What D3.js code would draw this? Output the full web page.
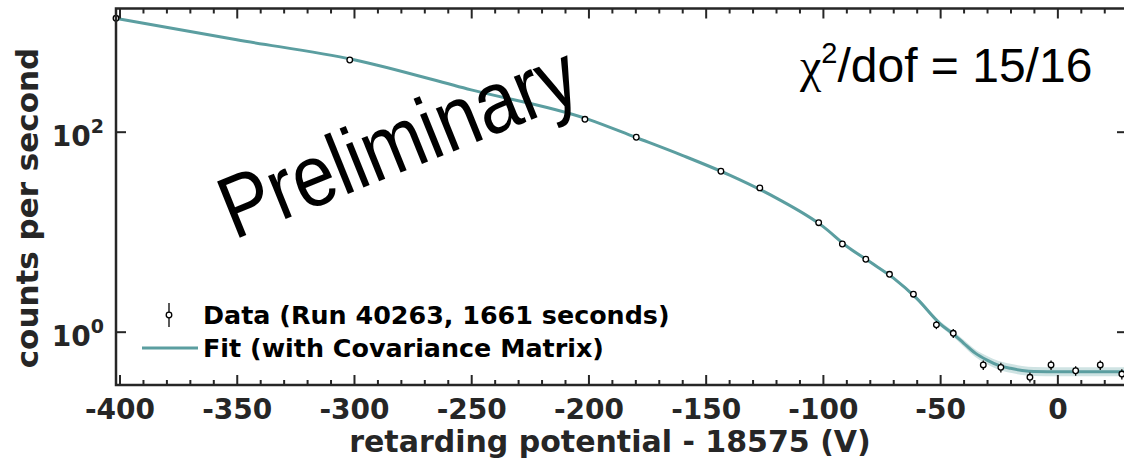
<!DOCTYPE html>
<html>
<head>
<meta charset="utf-8">
<script src="https://d3js.org/d3.v7.min.js"></script>
<style>
  body { margin: 0; background: #fff; }
  svg { display: block; }
</style>
</head>
<body>
<div id="chart"></div>
<script>
// measured points: retarding potential - 18575 (V), counts per second, error
const dataV    = [-401.5, -301.8, -201.5, -179.6, -143.5, -126.9, -101.8, -91.7, -81.7, -71.6,
                  -61.4, -51.6, -44.4, -31.6, -24.1, -11.7, -2.7, 7.8, 18.3, 27.5];
const dataRate = [1361, 521, 133, 88, 40.2, 27.4, 12.3, 7.53, 5.30, 3.75,
                  2.37, 1.17, 0.964, 0.465, 0.44, 0.35, 0.465, 0.407, 0.465, 0.377];
const dataErr  = [5, 4, 1.5, 1.2, 0.7, 0.6, 0.35, 0.25, 0.2, 0.16,
                  0.15, 0.11, 0.1, 0.05, 0.05, 0.04, 0.05, 0.045, 0.05, 0.045];

// fit curve and its relative uncertainty band
const fitV      = [-401.5, -350, -300, -250, -200, -180, -160, -140, -120, -100, -90, -80, -70,
                   -60, -50, -44, -40, -35, -30, -25, -20, -15, -10, 0, 30];
const fitRate   = [1361, 830, 525, 262, 133, 88, 58, 37, 21.8, 11.3, 7.2, 5.0, 3.45,
                   2.15, 1.2, 0.93, 0.77, 0.61, 0.52, 0.46, 0.43, 0.41, 0.40, 0.398, 0.398];
const fitRelErr = [0.01, 0.01, 0.01, 0.01, 0.01, 0.01, 0.01, 0.012, 0.015, 0.02, 0.025, 0.03, 0.035,
                   0.045, 0.06, 0.07, 0.08, 0.09, 0.1, 0.105, 0.11, 0.11, 0.11, 0.11, 0.11];

const xMajor = [-400, -350, -300, -250, -200, -150, -100, -50, 0];
const xMinor = d3.range(-400, 30, 10).filter(v => v % 50 !== 0);
const yTicks = [1, 100];
const yTickLabels = [["10", "0"], ["10", "2"]];

const W = 1124, H = 462;
const plot = { left: 116, right: 1127, top: 8.5, bottom: 385 };
const axisColor = "#262626";
const fitColor = "#5b9ea0";

const svg = d3.select("#chart").append("svg")
    .attr("width", W)
    .attr("height", H);

const x = d3.scaleLinear().domain([-401.5, 29.7]).range([plot.left, plot.right]);
const y = d3.scaleLog().domain([0.293, 1706]).range([plot.bottom, plot.top]);

// fit band
const fit = fitV.map((v, i) => ({ v, r: fitRate[i], e: fitRelErr[i] }));
svg.append("path")
    .datum(fit)
    .attr("fill", "#cfe3e3")
    .attr("d", d3.area()
        .x(d => x(d.v))
        .y0(d => y(d.r / (1 + d.e)))
        .y1(d => y(d.r * (1 + d.e)))
        .curve(d3.curveMonotoneX));

// fit line
svg.append("path")
    .datum(fit)
    .attr("fill", "none")
    .attr("stroke", fitColor)
    .attr("stroke-width", 3)
    .attr("d", d3.line()
        .x(d => x(d.v))
        .y(d => y(d.r))
        .curve(d3.curveMonotoneX));

// data points with error bars
const pts = dataV.map((v, i) => ({ v, r: dataRate[i], e: dataErr[i] }));
svg.selectAll(".err")
    .data(pts)
    .enter()
    .append("line")
    .attr("class", "err")
    .attr("x1", d => x(d.v))
    .attr("x2", d => x(d.v))
    .attr("y1", d => y(d.r - d.e))
    .attr("y2", d => y(d.r + d.e))
    .attr("stroke", "#000")
    .attr("stroke-width", 1.3);

svg.selectAll(".pt")
    .data(pts)
    .enter()
    .append("circle")
    .attr("class", "pt")
    .attr("cx", d => x(d.v))
    .attr("cy", d => y(d.r))
    .attr("r", 2.8)
    .attr("fill", "#fff")
    .attr("stroke", "#000")
    .attr("stroke-width", 1.3);

// axes (ticks pointing inward)
function styleAxis(g) {
    g.select(".domain").remove();
    g.selectAll(".tick line").attr("stroke", axisColor).attr("stroke-width", 2);
    g.selectAll("text")
        .attr("fill", axisColor)
        .style("font-family", "'DejaVu Sans', sans-serif")
        .style("font-weight", "bold")
        .style("font-size", "28px");
}

svg.append("g")
    .attr("transform", `translate(0,${plot.bottom})`)
    .call(d3.axisBottom(x).tickValues(xMajor).tickSize(-10).tickPadding(14).tickFormat(d => String(d)))
    .call(styleAxis);
svg.append("g")
    .attr("transform", `translate(0,${plot.bottom})`)
    .call(d3.axisBottom(x).tickValues(xMinor).tickSize(-5).tickFormat(""))
    .call(styleAxis);
svg.append("g")
    .attr("transform", `translate(0,${plot.top})`)
    .call(d3.axisTop(x).tickValues(xMajor).tickSize(-10).tickFormat(""))
    .call(styleAxis);
svg.append("g")
    .attr("transform", `translate(0,${plot.top})`)
    .call(d3.axisTop(x).tickValues(xMinor).tickSize(-5).tickFormat(""))
    .call(styleAxis);
svg.append("g")
    .attr("transform", `translate(${plot.left},0)`)
    .call(d3.axisLeft(y).tickValues(yTicks).tickSize(-10).tickFormat(""))
    .call(styleAxis);
svg.append("g")
    .attr("transform", `translate(${plot.right},0)`)
    .call(d3.axisRight(y).tickValues(yTicks).tickSize(-10).tickFormat(""))
    .call(styleAxis);

// frame
svg.append("rect")
    .attr("x", plot.left)
    .attr("y", plot.top)
    .attr("width", plot.right - plot.left)
    .attr("height", plot.bottom - plot.top)
    .attr("fill", "none")
    .attr("stroke", axisColor)
    .attr("stroke-width", 2.5);

// y tick labels 10^n
const yLab = svg.selectAll(".ylab")
    .data(yTicks)
    .enter()
    .append("text")
    .attr("class", "ylab")
    .attr("x", 104)
    .attr("y", d => y(d) + 14)
    .attr("text-anchor", "end")
    .attr("fill", axisColor)
    .style("font-family", "'DejaVu Sans', sans-serif")
    .style("font-weight", "bold")
    .style("font-size", "28px");
yLab.append("tspan").text((d, i) => yTickLabels[i][0]);
yLab.append("tspan")
    .attr("dy", -13)
    .style("font-size", "19px")
    .text((d, i) => yTickLabels[i][1]);

// axis titles
svg.append("text")
    .attr("x", 610)
    .attr("y", 452)
    .attr("text-anchor", "middle")
    .attr("fill", axisColor)
    .style("font-family", "'DejaVu Sans', sans-serif")
    .style("font-weight", "bold")
    .style("font-size", "30px")
    .text("retarding potential - 18575 (V)");

svg.append("text")
    .attr("transform", "translate(38,208) rotate(-90)")
    .attr("text-anchor", "middle")
    .attr("fill", axisColor)
    .style("font-family", "'DejaVu Sans', sans-serif")
    .style("font-weight", "bold")
    .style("font-size", "31px")
    .text("counts per second");

// legend
const leg = svg.append("g");
leg.append("line")
    .attr("x1", 169).attr("x2", 169)
    .attr("y1", 303).attr("y2", 327)
    .attr("stroke", "#000").attr("stroke-width", 1.3);
leg.append("circle")
    .attr("cx", 169).attr("cy", 315).attr("r", 2.8)
    .attr("fill", "#fff").attr("stroke", "#000").attr("stroke-width", 1.3);
leg.append("line")
    .attr("x1", 142).attr("x2", 198)
    .attr("y1", 348).attr("y2", 348)
    .attr("stroke", fitColor).attr("stroke-width", 3);
leg.selectAll("text")
    .data(["Data (Run 40263, 1661 seconds)", "Fit (with Covariance Matrix)"])
    .enter()
    .append("text")
    .attr("x", 203)
    .attr("y", (d, i) => 324 + i * 33)
    .attr("fill", "#000")
    .style("font-family", "'DejaVu Sans', sans-serif")
    .style("font-weight", "bold")
    .style("font-size", "25.4px")
    .text(d => d);

// chi2 annotation
const chi = svg.append("text")
    .attr("x", 800)
    .attr("y", 82)
    .attr("fill", "#000")
    .style("font-family", "'Liberation Sans', Arial, sans-serif")
    .style("font-size", "48px");
chi.append("tspan").style("font-family", "'Liberation Serif', serif").text("χ");
chi.append("tspan").attr("dy", -19).style("font-size", "29px").text("2");
chi.append("tspan").attr("dy", 19).text("/dof = 15/16");

// watermark
svg.append("text")
    .attr("transform", "translate(234,240) rotate(-22) scale(0.86,1)")
    .attr("fill", "#000")
    .style("font-family", "'Liberation Sans', Arial, sans-serif")
    .style("font-size", "88px")
    .text("Preliminary");
</script>
</body>
</html>
